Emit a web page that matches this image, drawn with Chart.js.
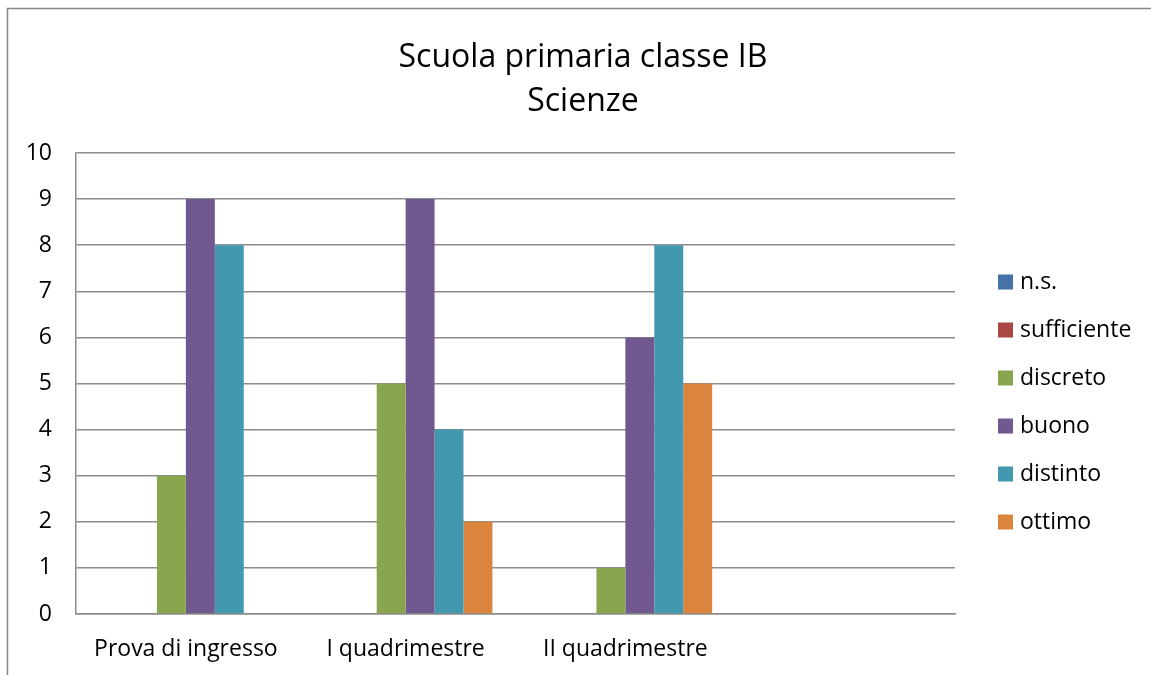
<!DOCTYPE html>
<html><head><meta charset="utf-8">
<script src="https://cdn.jsdelivr.net/npm/chart.js@4/dist/chart.umd.min.js"></script>
<style>html,body{margin:0;padding:0;background:#fff}#wrap{width:1151px;height:675px;position:relative}</style>
</head><body><div id="wrap"><canvas id="c" width="1151" height="675"></canvas></div>
<script>
const titleLines = ["Scuola primaria classe IB", "Scienze"];
const categories = ["Prova di ingresso", "I quadrimestre", "II quadrimestre", ""];
const seriesNames = ["n.s.", "sufficiente", "discreto", "buono", "distinto", "ottimo"];
const nsValues = [0, 0, 0, null];
const sufficienteValues = [0, 0, 0, null];
const discretoValues = [3, 5, 1, null];
const buonoValues = [9, 9, 6, null];
const distintoValues = [8, 4, 8, null];
const ottimoValues = [0, 2, 5, null];
const colors = ["#4572A7", "#AA4643", "#89A54E", "#71588F", "#4198AF", "#DB843D"];
const yTicks = [0,1,2,3,4,5,6,7,8,9,10];

const FONT = "'Open Sans', 'Liberation Sans', sans-serif";
const allValues = [nsValues, sufficienteValues, discretoValues, buonoValues, distintoValues, ottimoValues];

const decor = {
  id: 'decor',
  beforeDraw(chart) {
    const ctx = chart.ctx;
    ctx.save();
    ctx.fillStyle = '#fff';
    ctx.fillRect(0, 0, chart.width, chart.height);
    ctx.strokeStyle = '#868686';
    ctx.lineWidth = 1.5;
    ctx.strokeRect(7.5, 8.5, 3000, 3000);
    ctx.restore();
  },
  afterDraw(chart) {
    const ctx = chart.ctx;
    ctx.save();
    ctx.fillStyle = '#000';
    ctx.textAlign = 'center';
    ctx.textBaseline = 'alphabetic';
    ctx.font = "32px " + FONT;
    ctx.fillText(titleLines[0], 583, 67);
    ctx.fillText(titleLines[1], 583, 111);
    ctx.font = "23px " + FONT;
    ctx.textAlign = 'left';
    ctx.textBaseline = 'middle';
    seriesNames.forEach((n, i) => {
      const cy = 282 + i * 48;
      ctx.fillStyle = colors[i];
      ctx.fillRect(998, cy - 7.5, 15, 15);
      ctx.fillStyle = '#000';
      ctx.fillText(n, 1020, cy);
    });
    ctx.restore();
  }
};

new Chart(document.getElementById('c'), {
  type: 'bar',
  data: {
    labels: categories,
    datasets: seriesNames.map((n, i) => ({
      label: n, data: allValues[i], backgroundColor: colors[i],
      categoryPercentage: 0.79, barPercentage: 1.0, borderWidth: 0
    }))
  },
  options: {
    responsive: false, animation: false, devicePixelRatio: 1,
    layout: { padding: { left: 0, top: 153, right: 196, bottom: 0 } },
    plugins: { legend: { display: false }, title: { display: false }, tooltip: { enabled: false } },
    scales: {
      x: {
        grid: { display: false, drawTicks: false },
        border: { display: true, color: '#8c8c8c', width: 1.5 },
        ticks: { color: '#000', font: { family: FONT, size: 23 }, padding: 22, maxRotation: 0, autoSkip: false },
        afterFit(s) { s.height = 61; }
      },
      y: {
        min: 0, max: 10,
        afterBuildTicks(s) { s.ticks = yTicks.map(v => ({ value: v })); },
        grid: { color: '#8c8c8c', lineWidth: 1.5, drawTicks: false },
        border: { display: true, color: '#8c8c8c', width: 1.5 },
        ticks: { color: '#000', font: { family: FONT, size: 23 }, padding: 24 },
        afterFit(s) { s.width = 76; }
      }
    }
  },
  plugins: [decor]
});
</script></body></html>
